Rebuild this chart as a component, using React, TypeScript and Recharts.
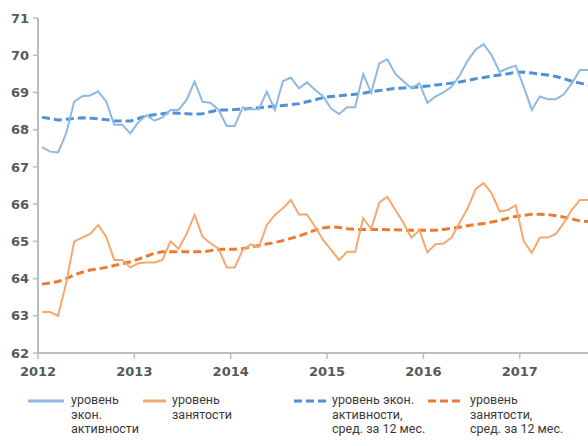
import React from "react";
import { LineChart, Line, XAxis, YAxis } from "recharts";

const yearLabels = ["2012", "2013", "2014", "2015", "2016", "2017"];

const activity = [
  67.53, 67.41, 67.39, 67.9, 68.75, 68.9, 68.92, 69.03, 68.75, 68.13, 68.13, 67.9,
  68.2, 68.39, 68.24, 68.33, 68.53, 68.53, 68.8, 69.29, 68.75, 68.72, 68.53, 68.1,
  68.1, 68.6, 68.55, 68.55, 69.02, 68.53, 69.3, 69.4, 69.11, 69.27, 69.07, 68.9,
  68.57, 68.42, 68.6, 68.6, 69.5, 68.99, 69.78, 69.89, 69.5, 69.3, 69.11, 69.25,
  68.72, 68.89, 69.0, 69.15, 69.45, 69.85, 70.15, 70.3, 70.0, 69.55, 69.65, 69.72,
  69.15, 68.53, 68.89, 68.82, 68.82, 68.95, 69.25, 69.6, 69.6,
];

const activityAvg = [
  68.33, 68.3, 68.26, 68.28, 68.3, 68.32, 68.31, 68.29, 68.27, 68.24, 68.23, 68.23,
  68.3, 68.37, 68.4, 68.43, 68.45, 68.44, 68.43, 68.42, 68.43, 68.48, 68.53, 68.53,
  68.54, 68.55, 68.57, 68.59, 68.61, 68.63, 68.65, 68.67, 68.7, 68.75, 68.8, 68.86,
  68.89, 68.91, 68.93, 68.95, 68.98, 69.02, 69.05, 69.08, 69.11, 69.12, 69.13, 69.15,
  69.17, 69.2, 69.22, 69.25, 69.28, 69.32, 69.37, 69.4, 69.44, 69.47, 69.5, 69.54,
  69.55, 69.52, 69.49, 69.47, 69.43, 69.37, 69.3, 69.25, 69.2,
];

const employment = [
  63.1, 63.1, 63.0, 63.87, 64.99, 65.1, 65.2, 65.44, 65.12, 64.5, 64.5, 64.3,
  64.41, 64.43, 64.43, 64.5, 65.0, 64.8, 65.2, 65.71, 65.12, 64.94, 64.8, 64.3,
  64.3, 64.77, 64.92, 64.84, 65.44, 65.71, 65.89, 66.11, 65.72, 65.72, 65.4, 65.04,
  64.77, 64.5, 64.72, 64.72, 65.62, 65.33, 66.04, 66.2, 65.85, 65.5, 65.1, 65.3,
  64.7, 64.92, 64.94, 65.1, 65.5, 65.88, 66.4, 66.57, 66.29, 65.8, 65.84, 65.97,
  65.0, 64.69, 65.1, 65.1, 65.2, 65.5, 65.85, 66.11, 66.11,
];

const employmentAvg = [
  63.85, 63.88, 63.92, 64.0, 64.1, 64.17, 64.23, 64.26, 64.3, 64.35, 64.4, 64.45,
  64.52, 64.6, 64.68, 64.72, 64.72, 64.72, 64.72, 64.72, 64.72, 64.75, 64.78, 64.79,
  64.79, 64.8, 64.85, 64.89, 64.93, 64.97, 65.02, 65.08, 65.14, 65.22, 65.3, 65.36,
  65.39, 65.37, 65.34, 65.32, 65.32, 65.32, 65.32, 65.31, 65.31, 65.3, 65.3, 65.3,
  65.3, 65.3, 65.32, 65.35, 65.38, 65.42, 65.45, 65.48, 65.52, 65.56, 65.62, 65.67,
  65.7, 65.73, 65.73, 65.72, 65.69, 65.65, 65.6, 65.55, 65.53,
];

const yTicks = [62, 63, 64, 65, 66, 67, 68, 69, 70, 71];

const data = activity.map((v, i) => ({
  i,
  activity: v,
  activityAvg: activityAvg[i],
  employment: employment[i],
  employmentAvg: employmentAvg[i],
}));

const xTicks = yearLabels.map((_, k) => k * 12 - 0.5);

const C_ACT = "#8fb8e3";
const C_ACT_AVG = "#4f90d8";
const C_EMP = "#f5a86f";
const C_EMP_AVG = "#ee7a32";
const AXIS = "#bdbdbd";

const legendItems = [
  { label: ["уровень", "экон.", "активности"], color: C_ACT, dash: false, x: 28, w: 36, tx: 71 },
  { label: ["уровень", "занятости"], color: C_EMP, dash: false, x: 143, w: 23, tx: 172 },
  { label: ["уровень экон.", "активности,", "сред. за 12 мес."], color: C_ACT_AVG, dash: true, x: 294, w: 32, tx: 332 },
  { label: ["уровень", "занятости,", "сред. за 12 мес."], color: C_EMP_AVG, dash: true, x: 428, w: 34, tx: 470 },
];

export default function App() {
  const tickStyle = {
    fontFamily: "'DejaVu Sans', sans-serif",
    fontSize: 13,
    fontWeight: 700,
    fill: "#595959",
  };
  return (
    <div
      style={{
        position: "absolute",
        left: 0,
        top: 0,
        width: 588,
        height: 446,
        background: "#fff",
        overflow: "hidden",
      }}
    >
      <LineChart
        width={588}
        height={380}
        data={data}
        margin={{ top: 18, right: 0, bottom: 0, left: 0 }}
      >
        <XAxis
          dataKey="i"
          type="number"
          domain={[-0.5, 68]}
          ticks={xTicks}
          allowDataOverflow
          tickFormatter={(v: number) => yearLabels[Math.round((v + 0.5) / 12)] ?? ""}
          height={27}
          stroke={AXIS}
          axisLine={{ stroke: AXIS, strokeWidth: 2 }}
          tickLine={{ stroke: AXIS, strokeWidth: 1.5 }}
          tickSize={6}
          tickMargin={8}
          tick={tickStyle}
          interval={0}
        />
        <YAxis
          domain={[62, 71]}
          ticks={yTicks}
          width={38}
          stroke={AXIS}
          axisLine={{ stroke: AXIS, strokeWidth: 2 }}
          tickLine={{ stroke: AXIS, strokeWidth: 1.5 }}
          tickSize={5}
          tickMargin={4}
          tick={tickStyle}
          interval={0}
        />
        <Line
          dataKey="activityAvg"
          stroke={C_ACT_AVG}
          strokeWidth={3}
          strokeDasharray="8 4"
          dot={false}
          isAnimationActive={false}
        />
        <Line
          dataKey="employmentAvg"
          stroke={C_EMP_AVG}
          strokeWidth={3}
          strokeDasharray="8 4"
          dot={false}
          isAnimationActive={false}
        />
        <Line
          dataKey="activity"
          stroke={C_ACT}
          strokeWidth={2}
          dot={false}
          isAnimationActive={false}
        />
        <Line
          dataKey="employment"
          stroke={C_EMP}
          strokeWidth={2}
          dot={false}
          isAnimationActive={false}
        />
      </LineChart>
      {legendItems.map((it, k) => (
        <div key={k}>
          <svg
            style={{ position: "absolute", left: it.x, top: 398 }}
            width={it.w}
            height={6}
          >
            <line
              x1={0}
              y1={3}
              x2={it.w}
              y2={3}
              stroke={it.color}
              strokeWidth={3}
              strokeDasharray={it.dash ? "8 4" : undefined}
            />
          </svg>
          <div
            style={{
              position: "absolute",
              left: it.tx,
              top: 393,
              fontFamily: "Roboto, sans-serif",
              fontSize: 12.5,
              lineHeight: "14.5px",
              color: "#3a3a3a",
              whiteSpace: "nowrap",
            }}
          >
            {it.label.map((l, j) => (
              <div key={j}>{l}</div>
            ))}
          </div>
        </div>
      ))}
    </div>
  );
}
